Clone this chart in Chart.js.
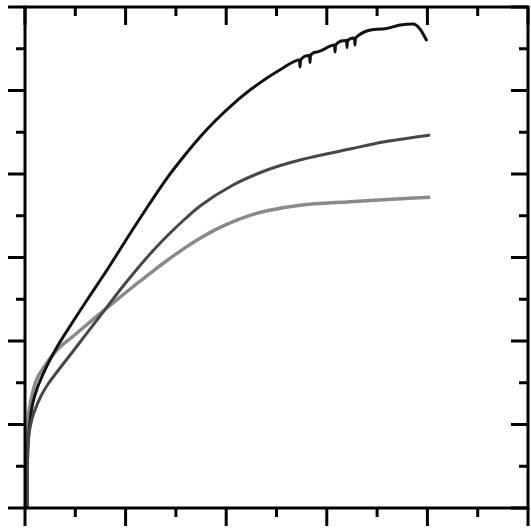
<!DOCTYPE html>
<html>
<head>
<meta charset="utf-8">
<script src="https://cdn.jsdelivr.net/npm/chart.js@4/dist/chart.umd.min.js"></script>
<style>
  html, body { margin: 0; padding: 0; background: #fff; }
  #wrap { width: 531px; height: 529px; }
</style>
</head>
<body>
<div id="wrap"><canvas id="myChart"></canvas></div>
<script>
// strain / stress readings, one pair of arrays per curve
const xBlack = [0.02, 0.02, 0.03, 0.06, 0.099, 0.199, 0.318, 0.487, 0.656, 0.815, 1.074, 1.243, 1.412, 1.59, 1.74, 1.889,
  2.068, 2.237, 2.565,
  2.729, 2.734, 2.739, 2.828, 2.833, 2.838, 2.903, 3.077, 3.082, 3.087, 3.196, 3.201, 3.206, 3.275, 3.28, 3.285,
  3.559, 3.728, 3.857, 3.926, 3.996];
const yBlack = [0, 0.455, 0.754, 1.138, 1.353, 1.653, 1.928, 2.251, 2.563, 2.85, 3.341, 3.653, 3.952, 4.228, 4.443, 4.635,
  4.838, 5.006, 5.269,
  5.365, 5.281, 5.365, 5.419, 5.335, 5.419, 5.461, 5.545, 5.461, 5.545, 5.599, 5.515, 5.599, 5.629, 5.545, 5.629,
  5.737, 5.784, 5.796, 5.737, 5.593];

const xDark = [0.02, 0.02, 0.03, 0.06, 0.099, 0.159, 0.229, 0.318, 0.487, 0.746, 0.984, 1.243, 1.412, 1.59, 1.74, 2.068,
  2.406, 2.734, 3.231, 3.559, 4.026];
const yDark = [0, 0.455, 0.754, 1.018, 1.174, 1.341, 1.485, 1.629, 1.892, 2.299, 2.671, 3.042, 3.257, 3.461, 3.617, 3.868,
  4.048, 4.168, 4.299, 4.383, 4.467];

const xGray = [0.02, 0.02, 0.03, 0.05, 0.07, 0.109, 0.189, 0.318, 0.487, 0.656, 0.815, 0.984, 1.143, 1.282, 1.412, 1.59,
  1.74, 1.889, 2.068, 2.237, 2.406, 2.734, 3.231, 3.559, 4.026];
const yGray = [0, 0.814, 1.054, 1.234, 1.353, 1.521, 1.689, 1.892, 2.066, 2.237, 2.396, 2.563, 2.716, 2.847, 2.964, 3.115,
  3.23, 3.331, 3.43, 3.505, 3.56, 3.627, 3.669, 3.693, 3.721];

const xMajor = [0, 1, 2, 3, 4, 5];
const xMinor = [0.5, 1.5, 2.5, 3.5, 4.5];
const yMajor = [0, 1, 2, 3, 4, 5, 6];
const yMinor = [0.5, 1.5, 2.5, 3.5, 4.5, 5.5];

const toPoints = (xs, ys) => xs.map((x, i) => ({ x, y: ys[i] }));

// frame and tick marks, all ticks point left / down like the original plot
const framePlugin = {
  id: "frame",
  afterDatasetsDraw(chart) {
    const { ctx, chartArea: a, scales } = chart;
    ctx.save();
    ctx.strokeStyle = "#000";
    ctx.lineWidth = 3;
    ctx.lineCap = "butt";
    ctx.strokeRect(a.left, a.top, a.right - a.left, a.bottom - a.top);

    const tickX = (v, len) => {
      const px = scales.x.getPixelForValue(v);
      ctx.beginPath();
      ctx.moveTo(px, a.bottom);
      ctx.lineTo(px, a.bottom + len);
      ctx.moveTo(px, a.top);
      ctx.lineTo(px, a.top + len);
      ctx.stroke();
    };
    const tickY = (v, len) => {
      const py = scales.y.getPixelForValue(v);
      ctx.beginPath();
      ctx.moveTo(a.left, py);
      ctx.lineTo(a.left - len, py);
      ctx.moveTo(a.right, py);
      ctx.lineTo(a.right - len, py);
      ctx.stroke();
    };
    xMajor.forEach((v) => tickX(v, 18));
    xMinor.forEach((v) => tickX(v, 9));
    yMajor.forEach((v) => tickY(v, 17));
    yMinor.forEach((v) => tickY(v, 9));
    ctx.restore();
  },
};

const lineStyle = (color, width) => ({
  borderColor: color,
  backgroundColor: color,
  borderWidth: width,
  pointRadius: 0,
  showLine: true,
  fill: false,
  cubicInterpolationMode: "monotone",
});

new Chart(document.getElementById("myChart"), {
  type: "scatter",
  data: {
    datasets: [
      { data: toPoints(xDark, yDark), ...lineStyle("#474747", 3) },
      { data: toPoints(xBlack, yBlack), ...lineStyle("#111111", 3) },
      { data: toPoints(xGray, yGray), ...lineStyle("#8a8a8a", 3.5) },
    ],
  },
  options: {
    responsive: true,
    maintainAspectRatio: false,
    animation: false,
    layout: { padding: { left: 25, top: 7, right: 3, bottom: 21 } },
    plugins: { legend: { display: false }, tooltip: { enabled: false } },
    scales: {
      x: { type: "linear", min: 0, max: 5, display: false },
      y: { type: "linear", min: 0, max: 6, display: false },
    },
  },
  plugins: [framePlugin],
});
</script>
</body>
</html>
